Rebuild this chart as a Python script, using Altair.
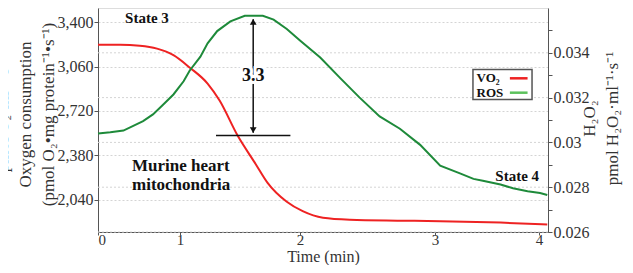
import altair as alt
import pandas as pd

SERIF = "Liberation Serif"
LABEL_SERIF = "Liberation Serif, Times New Roman, serif"
RED = "#ee2222"
GREEN = "#1e8a3a"
LEG_GREEN = "#5cc15c"
AX = "#555555"
TXT = "#333333"

# ---- data ----
vo2_time = [0, 0.27, 0.51, 0.72, 0.92, 1.08, 1.23, 1.33, 1.48, 1.63, 1.73, 1.89,
            2.02, 2.17, 2.37, 2.74, 3.05, 3.63, 4.08]
vo2_vals = [3226, 3226, 3219, 3197, 3147, 3053, 2930, 2800, 2532, 2315, 2170, 2025,
            1953, 1903, 1888, 1881, 1877, 1866, 1852]

ros_time = [0, 0.15, 0.31, 0.43, 0.55, 0.67, 0.79, 0.92, 1.03, 1.08, 1.17, 1.23,
            1.31, 1.42, 1.54, 1.69, 1.78, 1.89, 2.0, 2.15, 2.30, 2.44, 2.59, 2.74,
            2.89, 3.05, 3.24, 3.37, 3.46, 3.63, 3.75, 3.89, 4.01, 4.08]
ros_vals = [0.03040, 0.03045, 0.03053, 0.03074, 0.03095, 0.03125, 0.03167, 0.03214,
            0.03273, 0.03320, 0.03383, 0.03442, 0.03497, 0.03540, 0.03565, 0.03565,
            0.03548, 0.03506, 0.03455, 0.03379, 0.03286, 0.03201, 0.03116, 0.03061,
            0.02989, 0.02896, 0.02862, 0.02837, 0.02829, 0.02812, 0.02795, 0.02782,
            0.02774, 0.02765]

time_ticks = [0, 1, 2, 3, 4]
vo2_ticks = [2040, 2380, 2720, 3060, 3400]
ros_major = [0.026, 0.028, 0.030, 0.032, 0.034]
ros_ticks = [0.026, 0.027, 0.028, 0.029, 0.030, 0.031, 0.032, 0.033, 0.034, 0.035]

state_text = ["State 3", "State 4"]
state_time = [0.33, 3.58]
state_vo2 = [3429, 2221]

sample_text = ["Murine heart", "mitochondria"]
sample_time = [0.415, 0.415]
sample_vo2 = [2300, 2156]

delta_text = ["3.3"]
delta_time = [1.61]
delta_vo2 = [2988]

arrow_time = [1.61]
arrow_top = [3422]
arrow_bottom = [2554]
head_shape = ["triangle-up", "triangle-down"]
head_time = [1.61, 1.61]
head_vo2 = [3402, 2574]

base_time = [1.30]
base_time2 = [1.92]
base_vo2 = [2532]

legend_names = ["VO\u2082", "ROS"]
legend_colors = [RED, LEG_GREEN]
legend_vo2 = [2970, 2860]
legend_text_time = [3.40, 3.40]
legend_line_time = [3.72, 3.72]
legend_line_time2 = [3.89, 3.89]
legend_box_time = [3.365]
legend_box_time2 = [3.933]
legend_box_top = [3038]
legend_box_bottom = [2807]

# ---- scales ----
X_DOMAIN = [0, 1, 2, 3, 4, 4.087]
X_RANGE = [0, 82, 202, 337, 441, 450]
VO2_DOMAIN = [1794, 3508]
ROS_DOMAIN = [0.026, 0.036]


def xs():
    return alt.Scale(domain=X_DOMAIN, range=X_RANGE)


def ysl():
    return alt.Scale(domain=VO2_DOMAIN, nice=False, zero=False)


def ysr():
    return alt.Scale(domain=ROS_DOMAIN, nice=False, zero=False)


df_vo2 = pd.DataFrame({"t": vo2_time, "v": vo2_vals})
df_ros = pd.DataFrame({"t": ros_time, "v": ros_vals})

NB = "\u00a0"

LAB = dict(labelFont=LABEL_SERIF, labelFontSize=16, labelColor=TXT,
           titleFont=SERIF, titleFontSize=17, titleFontWeight="normal", titleColor=TXT,
           tickColor=AX, domainColor=AX)

x_axis = alt.Axis(values=time_ticks, labelExpr="format(datum.value, 'd')",
                  title="Time (min)", grid=False,
                  tickSize=3, labelPadding=-3, titleBaseline="alphabetic", titleY=29,
                  **{**LAB, "labelFontSize": 15, "titleFontSize": 16})
left_axis = alt.Axis(orient="left", values=vo2_ticks,
                     labelExpr="format(datum.value, ',')", grid=True,
                     gridDash=[2, 2], gridColor="#d4d4d4",
                     tickSize=4, labelPadding=1, titleAngle=270, titleBaseline="bottom",
                     titleAlign="center", titleX=-87, titleY=106, titleLineHeight=23,
                     title=[NB * 25 + "pmol O\u2082\u00b7ml\u207b\u00b9\u00b7s\u207b\u00b9",
                            "Oxygen consumption",
                            "(pmol O\u2082\u2022mg protein\u207b\u00b9\u2022s\u207b\u00b9)"], **LAB)
right_axis = alt.Axis(orient="right", values=ros_ticks,
                      labelExpr="(round(datum.value*1000) % 2 == 0) ? format(datum.value, '.3~f') : ''",
                      grid=False, tickSize=4, labelPadding=1, titleAngle=270,
                      titleBaseline="top", titleAlign="center", titleX=33, titleY=110,
                      titleLineHeight=23,
                      title=[NB * 12 + "H\u2082O\u2082",
                             "pmol H\u2082O\u2082\u00b7ml\u207b\u00b9\u00b7s\u207b\u00b9"], **LAB)


def XA(f="t"):
    return alt.X(f + ":Q", scale=xs(), axis=None)


def YA(f="v"):
    return alt.Y(f + ":Q", scale=ysl(), axis=None)


right_grid = alt.Chart(pd.DataFrame({"v": ros_major})).mark_rule(
    color="#d4d4d4", strokeDash=[2, 2], strokeWidth=1
).encode(y=alt.Y("v:Q", scale=ysr(), axis=None))

red = alt.Chart(df_vo2).mark_line(color=RED, strokeWidth=2, interpolate="monotone").encode(
    x=alt.X("t:Q", scale=xs(), axis=x_axis),
    y=alt.Y("v:Q", scale=ysl(), axis=left_axis),
)

green = alt.Chart(df_ros).mark_line(color=GREEN, strokeWidth=2).encode(
    x=XA(),
    y=alt.Y("v:Q", scale=ysr(), axis=right_axis),
)

states = alt.Chart(pd.DataFrame({"t": state_time, "v": state_vo2, "s": state_text})).mark_text(
    font=SERIF, fontSize=15, fontWeight="bold", color="#111", align="left", baseline="middle"
).encode(x=XA(), y=YA(), text="s:N")

sample = alt.Chart(pd.DataFrame({"t": sample_time, "v": sample_vo2, "s": sample_text})).mark_text(
    font=SERIF, fontSize=17, fontWeight="bold", color="#111", align="left", baseline="middle"
).encode(x=XA(), y=YA(), text="s:N")

arrow = alt.Chart(pd.DataFrame({"t": arrow_time, "v": arrow_top, "v2": arrow_bottom})).mark_rule(
    color="#111", strokeWidth=1.5
).encode(x=XA(), y=YA(), y2="v2:Q")

heads = alt.Chart(pd.DataFrame({"t": head_time, "v": head_vo2, "sh": head_shape})).mark_point(
    filled=True, color="#111", size=45, opacity=1
).encode(x=XA(), y=YA(), shape=alt.Shape("sh:N", scale=None))

base = alt.Chart(pd.DataFrame({"t": base_time, "t2": base_time2, "v": base_vo2})).mark_rule(
    color="#111", strokeWidth=1.5
).encode(x=XA(), x2="t2:Q", y=YA())

delta_df = pd.DataFrame({"t": delta_time, "v": delta_vo2, "s": delta_text})
delta_halo = alt.Chart(delta_df).mark_text(
    font=SERIF, fontSize=18, fontWeight="bold", color="white", stroke="white",
    strokeWidth=6, align="center", baseline="middle"
).encode(x=XA(), y=YA(), text="s:N")
delta = alt.Chart(delta_df).mark_text(
    font=SERIF, fontSize=18, fontWeight="bold", color="#111", align="center", baseline="middle"
).encode(x=XA(), y=YA(), text="s:N")

leg_box = alt.Chart(pd.DataFrame({"t": legend_box_time, "t2": legend_box_time2,
                                  "v": legend_box_top, "v2": legend_box_bottom})).mark_rect(
    fill="white", stroke="#555", strokeWidth=1.5
).encode(x=XA(), x2="t2:Q", y=YA(), y2="v2:Q")

leg_df = pd.DataFrame({"t": legend_text_time, "tl": legend_line_time, "tl2": legend_line_time2,
                       "v": legend_vo2, "s": legend_names, "c": legend_colors})
leg_text = alt.Chart(leg_df).mark_text(
    font=SERIF, fontSize=13, fontWeight="bold", color="#111", align="left", baseline="middle"
).encode(x=XA(), y=YA(), text="s:N")
leg_lines = alt.Chart(leg_df).mark_rule(strokeWidth=2.5).encode(
    x=XA("tl"), x2="tl2:Q", y=YA(), color=alt.Color("c:N", scale=None)
)

chart = alt.layer(
    right_grid, red, green, states, sample, arrow, heads, base, delta_halo, delta,
    leg_box, leg_text, leg_lines
).resolve_scale(x="independent", y="independent").properties(
    width=450, height=224,
    padding={"left": 90, "top": 0, "right": 77, "bottom": 33},
    autosize=alt.AutoSizeParams(type="none"),
).configure_view(
    stroke="#bbbbbb", strokeWidth=1
).configure_axis(
    labelFont=LABEL_SERIF, labelColor=TXT,
).configure(
    style={"guide-label": {"font": LABEL_SERIF, "fill": TXT}}
)

chart.save("out.html", embed_options={"renderer": "svg", "actions": False})
